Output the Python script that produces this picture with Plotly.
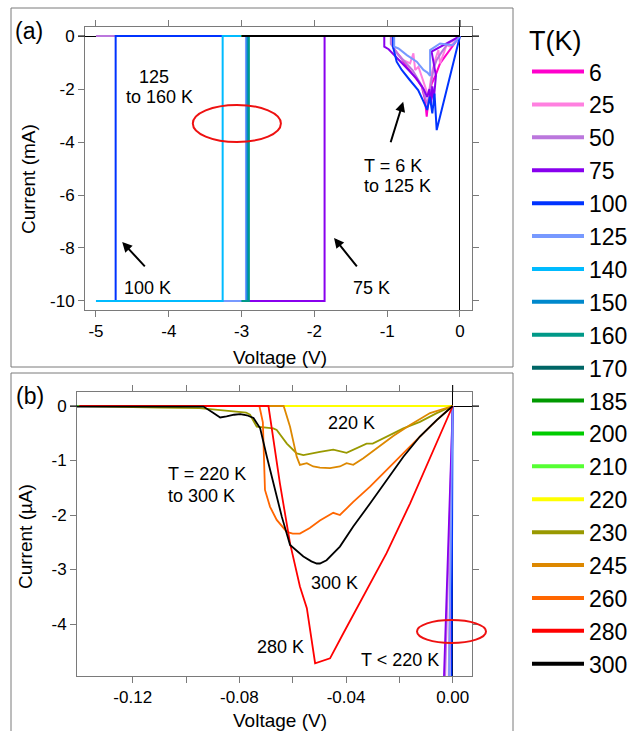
import plotly.graph_objects as go

FONT = "Liberation Sans, Arial, sans-serif"
W, H = 640, 731

# ---------------- data ----------------
temps = [6, 25, 50, 75, 100, 125, 140, 150, 160, 170, 185, 200, 210, 220, 230, 245, 260, 280, 300]
colors = ["#FF00CC", "#FF80E0", "#BB77DD", "#8800EE", "#0033FF", "#7799FF", "#00BBFF", "#0088CC",
          "#009988", "#006666", "#009900", "#00CC00", "#55FF33", "#FFFF00", "#999900", "#DD8800",
          "#FF6600", "#FF0000", "#000000"]

# low temperature sweeps (current in mA)
V_6 = [0, -0.091, -0.183, -0.274, -0.342, -0.388, -0.434, -0.457, -0.48, -0.525, -0.571, -0.64, -0.731, -0.822, -0.913, -0.913, -1.0]
I_6_mA = [0, -0.34, -0.65, -1.03, -1.53, -1.79, -2.41, -3.04, -2.41, -1.91, -1.72, -1.47, -1.16, -0.78, -0.465, 0, 0]

V_25 = [0, -0.068, -0.137, -0.183, -0.228, -0.274, -0.297, -0.342, -0.388, -0.434, -0.479, -0.525, -0.571, -0.616, -0.64, -0.685, -0.776, -0.868, -0.936, -0.936, -1.0]
I_25_mA = [0, -0.22, -0.40, -0.34, -0.65, -1.03, -0.53, -0.91, -1.41, -2.29, -1.91, -1.53, -1.16, -1.28, -0.65, -1.03, -0.91, -0.65, -0.28, 0, 0]

V_50 = [0, -0.17, -0.25, -0.32, -0.36, -0.40, -0.44, -0.47, -0.52, -0.58, -0.65, -0.75, -0.85, -0.95, -0.95, -5.0]
I_50_mA = [0, -0.30, -0.60, -0.90, -1.20, -1.80, -2.60, -2.40, -1.90, -1.60, -1.30, -1.00, -0.70, -0.30, 0, 0]

V_75 = [0, -0.39, -0.33, -0.36, -0.38, -0.40, -0.42, -0.45, -0.50, -0.60, -0.70, -0.80, -0.90, -0.98, -1.04, -1.04, -1.86, -1.86, -5.0]
I_75_mA = [0, -0.59, -1.50, -2.40, -1.90, -2.60, -2.00, -2.30, -2.00, -1.60, -1.30, -1.00, -0.70, -0.50, -0.40, 0, 0, -10, -10]

V_100 = [0, -0.32, -0.35, -0.38, -0.415, -0.45, -0.51, -0.575, -0.69, -0.80, -0.87, -0.92, -0.92, -4.73, -4.73, -5.0]
I_100_mA = [0, -3.55, -2.17, -2.92, -2.29, -2.79, -2.42, -2.04, -1.66, -1.28, -0.97, -0.40, 0, 0, -10, -10]

V_125 = [0, -0.10, -0.274, -0.342, -0.411, -0.41, -0.447, -0.502, -0.594, -0.73, -0.845, -0.904, -0.904, -2.94, -2.94, -3.40]
I_125_mA = [0, -0.35, -0.28, -0.40, -0.53, -1.50, -1.38, -1.28, -0.97, -0.72, -0.47, -0.40, 0, 0, -10, -10]

V_140 = [0, -3.26, -3.26, -5.0]
I_140_mA = [0, 0, -10, -10]

V_150 = [0, -2.92, -2.92, -3.0]
I_150_mA = [0, 0, -10, -10]

V_160 = [0, -2.90, -2.90, -3.0]
I_160_mA = [0, 0, -10, -10]

V_170 = [0, -3.0]
I_170_mA = [0, 0]
V_185 = [0, -3.0]
I_185_mA = [0, 0]
V_200 = [0, -3.0]
I_200_mA = [0, 0]
V_210 = [0, -3.0]
I_210_mA = [0, 0]

# high temperature sweeps (current in uA)
V_220 = [-0.14, 0]
I_220_uA = [0, 0]

V_230 = [-0.14, -0.124, -0.11, -0.095, -0.0897, -0.0822, -0.0775, -0.076, -0.0735, -0.071, -0.0673, -0.066,
         -0.0622, -0.0585, -0.056, -0.0498, -0.0448, -0.0398, -0.036, -0.0323, -0.030, -0.0248, -0.0185,
         -0.0123, -0.006, 0]
I_230_uA = [0, -0.02, -0.03, -0.04, -0.07, -0.10, -0.12, -0.16, -0.38, -0.39, -0.41, -0.44,
            -0.69, -0.87, -0.90, -0.84, -0.80, -0.86, -0.78, -0.69, -0.69, -0.56, -0.41,
            -0.29, -0.13, 0]

V_245 = [-0.14, -0.0634, -0.061, -0.0585, -0.0573, -0.0547, -0.0523, -0.0498, -0.046, -0.0423, -0.0398,
         -0.0373, -0.0335, -0.0285, -0.0223, -0.016, -0.0085, 0]
I_245_uA = [0, 0, -0.38, -0.93, -1.08, -1.05, -1.11, -1.13, -1.14, -1.11, -1.05,
            -1.08, -0.96, -0.78, -0.55, -0.35, -0.13, 0]

V_260 = [-0.14, -0.0725, -0.0712, -0.0704, -0.0685, -0.066, -0.0622, -0.060, -0.0573, -0.0536, -0.0498,
         -0.0448, -0.0423, -0.0373, -0.031, -0.0248, -0.0185, -0.0123, -0.006, 0]
I_260_uA = [0, 0, -0.30, -1.54, -1.85, -2.09, -2.31, -2.34, -2.34, -2.24, -2.10,
            -1.96, -2.00, -1.76, -1.48, -1.17, -0.87, -0.56, -0.26, 0]

V_280 = [-0.14, -0.0691, -0.0648, -0.061, -0.0573, -0.0547, -0.0516, -0.0498, -0.046, -0.041, -0.0335,
         -0.0248, -0.016, -0.0073, 0]
I_280_uA = [0, 0, -1.42, -2.52, -3.31, -3.71, -4.72, -4.69, -4.63, -4.17, -3.50,
            -2.70, -1.79, -0.81, 0]

V_300 = [-3.0, -0.14, -0.095, -0.0935, -0.090, -0.0872, -0.0848, -0.082, -0.0797, -0.0772, -0.0747, -0.0722,
         -0.0697, -0.0672, -0.0641, -0.061, -0.058, -0.056, -0.053, -0.051, -0.0498, -0.0473, -0.0423,
         -0.0373, -0.031, -0.0248, -0.0185, -0.0123, -0.006, 0]
I_300_uA = [0, 0, 0, -0.01, -0.12, -0.21, -0.19, -0.16, -0.15, -0.17, -0.22, -0.41,
            -0.93, -1.42, -2.03, -2.55, -2.68, -2.76, -2.85, -2.89, -2.89, -2.83, -2.58,
            -2.21, -1.79, -1.36, -0.93, -0.56, -0.26, 0]

sweeps_mA = {6: (V_6, I_6_mA), 25: (V_25, I_25_mA), 50: (V_50, I_50_mA), 75: (V_75, I_75_mA),
             100: (V_100, I_100_mA), 125: (V_125, I_125_mA), 140: (V_140, I_140_mA),
             150: (V_150, I_150_mA), 160: (V_160, I_160_mA), 170: (V_170, I_170_mA),
             185: (V_185, I_185_mA), 200: (V_200, I_200_mA), 210: (V_210, I_210_mA)}
sweeps_uA = {220: (V_220, I_220_uA), 230: (V_230, I_230_uA), 245: (V_245, I_245_uA),
             260: (V_260, I_260_uA), 280: (V_280, I_280_uA), 300: (V_300, I_300_uA)}

xa_ticks = [-5, -4, -3, -2, -1, 0]
xa_text = ["-5", "-4", "-3", "-2", "-1", "0"]
ya_ticks = [0, -2, -4, -6, -8, -10]
ya_text = ["0", "-2", "-4", "-6", "-8", "-10"]
xb_ticks = [-0.12, -0.10, -0.08, -0.06, -0.04, -0.02, 0.0]
xb_text = ["-0.12", "", "-0.08", "", "-0.04", "", "0.00"]
yb_ticks = [0, -1, -2, -3, -4]
yb_text = ["0", "-1", "-2", "-3", "-4"]

# ---------------- figure ----------------
fig = go.Figure()

for T, c in zip(temps, colors):
    if T in sweeps_mA:
        v, i = sweeps_mA[T]
        ia = list(i)
    else:
        v, i = sweeps_uA[T]
        ia = [x / 1000 for x in i]
    fig.add_trace(go.Scatter(x=v, y=ia, mode="lines", line=dict(color=c, width=2),
                             xaxis="x", yaxis="y", showlegend=False, hoverinfo="skip"))

for T, c in zip(temps, colors):
    if T in sweeps_mA:
        v, i = sweeps_mA[T]
        ib = [x * 1000 for x in i]
    else:
        v, i = sweeps_uA[T]
        ib = list(i)
    fig.add_trace(go.Scatter(x=v, y=ib, mode="lines", line=dict(color=c, width=1.8),
                             xaxis="x2", yaxis="y2", showlegend=False, hoverinfo="skip"))

# legend entries
for T, c in zip(temps, colors):
    fig.add_trace(go.Scatter(x=[None], y=[None], mode="lines", line=dict(color=c, width=4),
                             name=str(T), xaxis="x", yaxis="y", showlegend=True))


def px_x(p):
    return p / W


def px_y(p):
    return (H - p) / H


axis_common = dict(showgrid=False, showline=True, linecolor="#7a7a7a", linewidth=1, mirror="ticks",
                   ticks="outside", ticklen=6, tickcolor="#7a7a7a", tickwidth=1,
                   tickfont=dict(family=FONT, size=17, color="black"),
                   zeroline=True, zerolinecolor="black", zerolinewidth=1, tickmode="array")

fig.update_layout(
    width=W, height=H, margin=dict(l=0, r=0, t=0, b=0),
    paper_bgcolor="white", plot_bgcolor="white",
    font=dict(family=FONT, color="black"),
    xaxis=dict(domain=[px_x(85), px_x(472)], range=[-5.151, 0.165], anchor="y",
               tickvals=xa_ticks, ticktext=xa_text, **axis_common),
    yaxis=dict(domain=[px_y(310), px_y(27)], range=[-10.34, 0.34], anchor="x",
               tickvals=ya_ticks, ticktext=ya_text, **axis_common),
    xaxis2=dict(domain=[px_x(77), px_x(472)], range=[-0.1409, 0.00724], anchor="y2",
                tickvals=xb_ticks, ticktext=xb_text, **axis_common),
    yaxis2=dict(domain=[px_y(676), px_y(392)], range=[-4.954, 0.257], anchor="x2",
                tickvals=yb_ticks, ticktext=yb_text, **axis_common),
    legend=dict(x=px_x(527), y=px_y(15), xanchor="left", yanchor="top",
                font=dict(family=FONT, size=23, color="black"),
                title=dict(text="T(K)", font=dict(family=FONT, size=27, color="black")),
                tracegroupgap=0, itemwidth=52, bgcolor="rgba(0,0,0,0)"),
)

ann = []
def txt(x, y, s, xref="x", yref="y", size=18, xanchor="center", **kw):
    ann.append(dict(x=x, y=y, xref=xref, yref=yref, text=s, showarrow=False,
                    font=dict(family=FONT, size=size, color="black"), xanchor=xanchor,
                    yanchor="middle", **kw))

def arrow(x, y, ax, ay, xref="x", yref="y"):
    ann.append(dict(x=x, y=y, xref=xref, yref=yref, text="", showarrow=True, ax=ax, ay=ay,
                    arrowhead=2, arrowsize=1, arrowwidth=2, arrowcolor="black"))

# panel (a)
txt(-4.20, -1.55, "125")
txt(-4.13, -2.30, "to 160 K")
txt(-4.29, -9.51, "100 K")
arrow(-4.64, -7.77, 24, 26)
txt(-1.21, -9.51, "75 K")
arrow(-1.73, -7.62, 24, 30)
txt(-1.346, -4.92, "T = 6 K", xanchor="left")
txt(-1.346, -5.66, "to 125 K", xanchor="left")
arrow(-0.78, -2.48, -13, 42)
# panel (b)
txt(-0.1075, -1.25, "T = 220 K", xref="x2", yref="y2", xanchor="left")
txt(-0.1075, -1.65, "to 300 K", xref="x2", yref="y2", xanchor="left")
txt(-0.0378, -0.31, "220 K", xref="x2", yref="y2")
txt(-0.0444, -3.25, "300 K", xref="x2", yref="y2")
txt(-0.0644, -4.42, "280 K", xref="x2", yref="y2")
txt(-0.0198, -4.66, "T < 220 K", xref="x2", yref="y2")
# axis titles & panel labels
txt(px_x(28), px_y(179), "Current (mA)", xref="paper", yref="paper", size=19, textangle=-90)
txt(px_x(280), px_y(357), "Voltage (V)", xref="paper", yref="paper", size=19)
txt(px_x(26), px_y(537), "Current (\u00b5A)", xref="paper", yref="paper", size=19, textangle=-90)
txt(px_x(280), px_y(720), "Voltage (V)", xref="paper", yref="paper", size=19)
txt(px_x(29), px_y(31), "(a)", xref="paper", yref="paper", size=23)
txt(px_x(30), px_y(396), "(b)", xref="paper", yref="paper", size=23)
fig.update_layout(annotations=ann)

shapes = [
    # panel boxes
    dict(type="rect", xref="paper", yref="paper", x0=px_x(11), x1=px_x(513), y0=px_y(367), y1=px_y(8),
         line=dict(color="#7a7a7a", width=1)),
    dict(type="rect", xref="paper", yref="paper", x0=px_x(11), x1=px_x(513), y0=px_y(760), y1=px_y(373),
         line=dict(color="#7a7a7a", width=1)),
    # red ellipses
    dict(type="circle", xref="x", yref="y", x0=-3.67, x1=-2.46, y0=-4.00, y1=-2.60,
         line=dict(color="#EE1111", width=2)),
    dict(type="circle", xref="paper", yref="paper", x0=px_x(417), x1=px_x(486), y0=px_y(643), y1=px_y(620),
         line=dict(color="#EE1111", width=2)),
    # zero-axis extensions beyond frames
    dict(type="line", xref="x", yref="paper", x0=0, x1=0, y0=px_y(27), y1=px_y(20), line=dict(color="black", width=1)),
    dict(type="line", xref="paper", yref="y", x0=px_x(472), x1=px_x(479), y0=0, y1=0, line=dict(color="black", width=1)),
    dict(type="line", xref="paper", yref="y", x0=px_x(78), x1=px_x(85), y0=0, y1=0, line=dict(color="black", width=1)),
    dict(type="line", xref="x2", yref="paper", x0=0, x1=0, y0=px_y(392), y1=px_y(385), line=dict(color="black", width=1)),
    dict(type="line", xref="paper", yref="y2", x0=px_x(472), x1=px_x(479), y0=0, y1=0, line=dict(color="black", width=1)),
    dict(type="line", xref="paper", yref="y2", x0=px_x(70), x1=px_x(77), y0=0, y1=0, line=dict(color="black", width=1)),
]
fig.update_layout(shapes=shapes)

fig.write_html("out.html")
